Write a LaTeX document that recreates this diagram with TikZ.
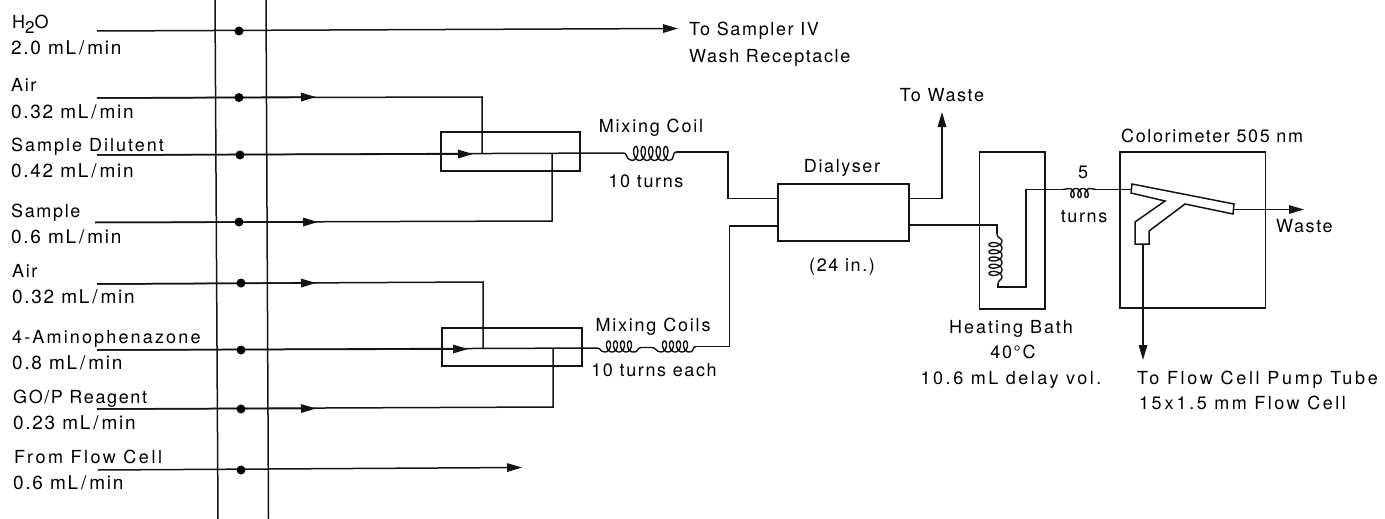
\documentclass[tikz,border=0pt]{standalone}
\usepackage{fontspec}
\setmainfont[LetterSpace=9]{TeX Gyre Heros}
\usetikzlibrary{arrows.meta}
\tikzset{
 x=1pt,y=-1pt,
 pipe/.style={line width=1.5pt,line join=miter,color=black!92},
 arr/.style={-{Triangle[length=15pt,width=8.5pt]}},
 lbl/.style={font=\fontsize{18}{20}\selectfont,inner sep=0,anchor=base west},
 rate/.style={font=\fontsize{19}{20}\selectfont,inner sep=0,anchor=base west},
 ctr/.style={font=\fontsize{18}{20}\selectfont,inner sep=0,anchor=base},
 dot/.style={circle,fill=black,inner sep=0,minimum size=9pt},
 boxed/.style={draw,pipe,inner sep=0},
 coilline/.style={line width=1.4pt,color=black!92},
}
\newcommand{\hcoil}[6]{\draw[coilline] plot[domain=0:#4,samples=121,smooth] ({#1+#3*\x+#5*sin(360*\x)},{#2+#6*cos(360*\x)});}
\newcommand{\vcoil}[6]{\draw[coilline] plot[domain=0:#4,samples=121,smooth] ({#2+#6*cos(360*\x)},{#1+#3*\x+#5*sin(360*\x)});}
\newcommand{\slsh}{\kern3pt/\kern3pt}
\newcommand{\lsp}[1]{\addfontfeatures{LetterSpace=#1}}
\begin{document}
\begin{tikzpicture}
\useasboundingbox (0,0) rectangle (1385,519);
\fill[white] (0,0) rectangle (1385,519);
% pump rails
\coordinate (r1a) at (215,0); \coordinate (r1b) at (218,519);
\coordinate (r2a) at (266,0); \coordinate (r2b) at (268.5,519);
\draw[pipe] (r1a)--(r1b) (r2a)--(r2b);
% labels left
\node[lbl] (l1) at (12,29) {\lsp{12}H\raisebox{-5pt}{\fontsize{17}{17}\selectfont 2}O};
\node[rate] (l1b) at (11,55) {2.0 mL\slsh min};
\node[lbl] (l2) at (11,92) {Air};
\node[rate] (l2b) at (11,118) {0.32 mL\slsh min};
\node[lbl] (l3) at (11,151) {\lsp{11}Sample Dilutent};
\node[rate] (l3b) at (11,177) {0.42 mL\slsh min};
\node[lbl] (l4) at (11,217) {Sample};
\node[rate] (l4b) at (11,243) {0.6 mL\slsh min};
\node[lbl] (l5) at (12,277) {Air};
\node[rate] (l5b) at (12,303) {0.32 mL\slsh min};
\node[lbl] (l6) at (12,343) {\lsp{12}4-Aminophenazone};
\node[rate] (l6b) at (12,369) {0.8 mL\slsh min};
\node[lbl] (l7) at (13,403) {GO\kern1.5pt/\kern1.5pt P Reagent};
\node[rate] (l7b) at (13,429) {0.23 mL\slsh min};
\node[lbl] (l8) at (14,463) {\lsp{14}From Flow Cell};
\node[rate] (l8b) at (13,489) {0.6 mL\slsh min};
% mixers
\coordinate (m1nw) at (441,132); \coordinate (m1se) at (580,171);
\draw[pipe] (m1nw) rectangle (m1se);
\coordinate (m2nw) at (442,328); \coordinate (m2se) at (582,366);
\draw[pipe] (m2nw) rectangle (m2se);
% H2O line
\coordinate (s1) at (97,31); \coordinate (e1) at (678,28.5);
\draw[pipe,arr] (s1)--(e1);
\node[lbl] (t1) at (689,36) {To Sampler IV};
\node[lbl] (t1b) at (689,63) {Wash Receptacle};
% air 1
\coordinate (s2) at (97,98); \coordinate (a2) at (316,97); \coordinate (t2) at (482,97); \coordinate (t2b) at (482,153.5);
\draw[pipe] (s2)--(t2)--(t2b);
\draw[pipe,arr] (s2)--(a2);
% dilutent
\coordinate (s3) at (97,155); \coordinate (a3) at (473,154); \coordinate (k3) at (624,153);
\draw[pipe] (s3)--(k3);
\draw[pipe,arr] (s3)--(a3);
% sample
\coordinate (s4) at (95,222.5); \coordinate (a4) at (318,222); \coordinate (t4) at (552,221); \coordinate (t4b) at (552,153.5);
\draw[pipe] (s4)--(t4)--(t4b);
\draw[pipe,arr] (s4)--(a4);
% coil 1
\coordinate (k3a) at (632,160.5); \coordinate (k3c) at (669.5,160.5); \coordinate (k3b) at (676,152);
\draw[coilline] (k3) .. controls (627,153) and (626,160) .. (k3a);
\hcoil{632}{153.5}{7.5}{5}{3.8}{7}
\draw[coilline] (k3c) .. controls (675,160) and (672,152) .. (k3b);
\coordinate (j1) at (728,152); \coordinate (j1b) at (728,198.5); \coordinate (j1c) at (778,198.5);
\draw[pipe] (k3b)--(j1)--(j1b)--(j1c);
\node[ctr] (t2a) at (651,132) {\lsp{10}Mixing Coil};
\node[ctr] (t2c) at (646,187) {10 turns};
% air 2
\coordinate (s5) at (97,284); \coordinate (a5) at (316,283); \coordinate (t5) at (483,282); \coordinate (t5b) at (483,349);
\draw[pipe] (s5)--(t5)--(t5b);
\draw[pipe,arr] (s5)--(a5);
% amino
\coordinate (s6) at (97,350); \coordinate (a6) at (468,349); \coordinate (k6) at (597,348);
\draw[pipe] (s6)--(k6);
\draw[pipe,arr] (s6)--(a6);
% GO/P
\coordinate (s7) at (97,409); \coordinate (a7) at (316,408.5); \coordinate (t7) at (553,407); \coordinate (t7b) at (553,349);
\draw[pipe] (s7)--(t7)--(t7b);
\draw[pipe,arr] (s7)--(a7);
% coils 2
\coordinate (c2a) at (605,352); \coordinate (c2b) at (633,352); \coordinate (c2c) at (641,347.5);
\coordinate (c2d) at (652,347.5); \coordinate (c2e) at (661,352); \coordinate (c2f) at (689,352); \coordinate (c2g) at (696,346.5);
\draw[coilline] (k6) .. controls (601,348) and (600,352) .. (c2a);
\hcoil{605}{346.5}{7}{4}{3.6}{5.5}
\draw[coilline] (c2b) .. controls (638,353) and (637,347.5) .. (c2c) -- (c2d) .. controls (656,347.5) and (656,352) .. (c2e);
\hcoil{661}{346.5}{7}{4}{3.6}{5.5}
\draw[coilline] (c2f) .. controls (694,353) and (692,346.5) .. (c2g);
\coordinate (j2) at (729.5,346.5); \coordinate (j2b) at (729.5,226); \coordinate (j2c) at (778,226);
\draw[pipe] (c2g)--(j2)--(j2b)--(j2c);
\node[ctr] (t3a) at (653,331) {\lsp{10}Mixing Coils};
\node[ctr] (t3c) at (654,376) {10 turns each};
% from flow cell
\coordinate (s8) at (98,470); \coordinate (a8) at (522,467.5);
\draw[pipe,arr] (s8)--(a8);
% dialyser
\node[boxed,minimum width=131pt,minimum height=57pt] (dial) at (843.5,212.5) {};
\node[ctr] (t4a) at (842,172) {Dialyser};
\node[ctr] (t4c) at (842,271) {(24 in.)};
% to waste
\coordinate (w1) at (909,198.5); \coordinate (w1b) at (942,198.5); \coordinate (w1c) at (942,112);
\draw[pipe,arr] (w1)--(w1b)--(w1c);
\node[ctr] (t5a) at (942,101) {To Waste};
% heating bath
\coordinate (hnw) at (979.5,152); \coordinate (hse) at (1045,309);
\draw[pipe] (hnw) rectangle (hse);
\coordinate (o1) at (909,225); \coordinate (o2) at (997,225); \coordinate (o3) at (997,234);
\draw[pipe] (o1)--(o2)--(o3);
\draw[coilline] (o3) .. controls (997,238) and (1002,238) .. (1002,241);
\vcoil{241}{995.5}{7.2}{5}{3.6}{6.5}
\coordinate (o4) at (1002,277); \coordinate (o4b) at (998,284); \coordinate (o5) at (998,287); \coordinate (o6) at (1026,287);
\coordinate (o7) at (1026,189.5); \coordinate (o8) at (1063,189.5);
\draw[coilline] (o4) .. controls (1002,280) and (998,280) .. (o4b);
\draw[pipe] (o4b)--(o5)--(o6)--(o7)--(o8);
\hcoil{1069}{193}{7}{3}{3.2}{-4.5}
\coordinate (o9) at (1069,188.5); \coordinate (o10) at (1090,188.5); \coordinate (o11) at (1096,189.5);
\draw[coilline] (o8) -- (o9) (o10) -- (o11);
\node[ctr] (t6a) at (1083,178) {5};
\node[ctr] (t6b) at (1084,222) {turns};
\node[ctr] (t6c) at (1011,333) {\lsp{11}Heating Bath};
\node[ctr] (t6d) at (1013,358) {40°C};
\node[ctr] (t6e) at (1011,384) {\lsp{14}10.6 mL delay vol.};
% colorimeter
\coordinate (cnw) at (1120,152); \coordinate (cse) at (1265.5,308);
\draw[pipe] (cnw) rectangle (cse);
\node[lbl] (t7a) at (1121,142) {Colorimeter 505 nm};
\coordinate (c1) at (1131,189.5);
\draw[pipe] (o11)--(c1);
\draw[pipe] (1132,184)--(1234,204)--(1233,214)--(1185,204)--(1149,231)--(1149,244)--(1135,244)--(1135,222)--(1165,201)--(1131,193)--cycle;
\coordinate (c2) at (1143,244); \coordinate (c3) at (1143,360);
\draw[pipe,arr] (c2)--(c3);
\coordinate (c4) at (1234,209.5); \coordinate (c5) at (1304,209.5);
\draw[pipe,arr] (c4)--(c5);
\node[lbl] (t8) at (1276,232) {Waste};
\node[lbl] (t9) at (1137,384) {\lsp{15}To Flow Cell Pump Tube};
\node[lbl] (t10) at (1139,409) {\lsp{14}15\kern3pt x\kern3pt 1.5 mm Flow Cell};
% pump dots
\foreach \n/\x/\y in {a/239/31,b/239/97.5,c/240/155,d/239/222,e/241/283,f/241/350,g/241/409,h/241/470}
  \node[dot] (d\n) at (\x,\y) {};
\end{tikzpicture}
\end{document}
